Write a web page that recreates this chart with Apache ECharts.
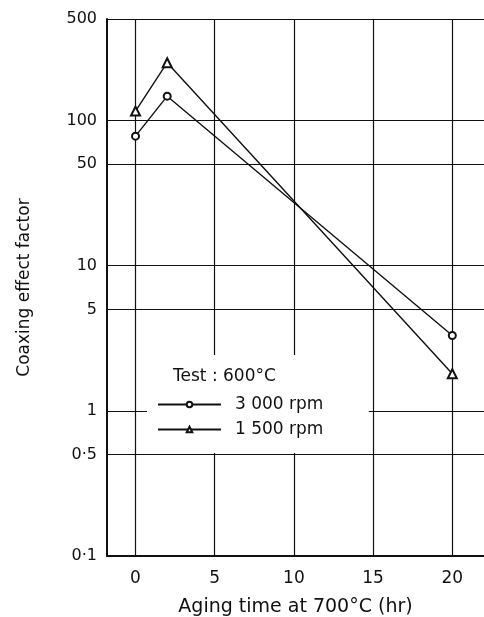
<!DOCTYPE html>
<html>
<head>
<meta charset="utf-8">
<script src="https://cdn.jsdelivr.net/npm/echarts@6/dist/echarts.min.js"></script>
<style>
  html, body { margin: 0; padding: 0; background: #fff; }
  #main { width: 484px; height: 617px; }
</style>
</head>
<body>
<div id="main"></div>
<script>
// aging time (hr)
var agingTime = [0, 2, 20];
// coaxing effect factor
var rpm3000 = [78, 147, 3.3];
var rpm1500 = [116, 250, 1.8];
var seriesNames = ['3 000 rpm', '1 500 rpm'];
// ticks
var xTicks = [0, 5, 10, 15, 20];
var yTicks = [0.1, 0.5, 1, 5, 10, 50, 100, 500];
var yTickLabels = ['0·1', '0·5', '1', '5', '10', '50', '100', '500'];

var font = 'DejaVu Sans';

function pairs(xs, ys) {
  return xs.map(function(x, i) { return [x, ys[i]]; });
}

// gridlines
var gridLines = [];
yTicks.forEach(function(v) { gridLines.push({ yAxis: v }); });
xTicks.forEach(function(v) { gridLines.push({ xAxis: v }); });

var chart = echarts.init(document.getElementById('main'));
chart.setOption({
  animation: false,
  backgroundColor: '#fff',
  textStyle: { fontFamily: font, color: '#111' },
  grid: { left: 107, top: 19, right: 0, bottom: 61, outerBoundsMode: 'none' },
  // the white legend box with its heading
  title: {
    text: 'Test : 600°C',
    left: 147,
    top: 355,
    z: 3,
    backgroundColor: '#fff',
    padding: [13, 93, 68, 26],
    textStyle: { fontFamily: font, fontSize: 17, fontWeight: 'normal', color: '#111' }
  },
  xAxis: {
    type: 'value',
    min: -1.8,
    max: 22,
    name: 'Aging time at 700°C (hr)',
    nameLocation: 'middle',
    nameGap: 42,
    nameTextStyle: { fontFamily: font, fontSize: 19, color: '#111' },
    axisLine: { show: true, onZero: false, lineStyle: { color: '#111', width: 2 } },
    axisTick: { show: false },
    splitLine: { show: false },
    axisLabel: {
      customValues: xTicks,
      margin: 14,
      fontFamily: font,
      fontSize: 17,
      color: '#111'
    }
  },
  yAxis: {
    type: 'log',
    logBase: 10,
    min: 0.1,
    max: 500,
    name: 'Coaxing effect factor',
    nameLocation: 'middle',
    nameGap: 74,
    nameTextStyle: { fontFamily: font, fontSize: 17, color: '#111' },
    axisLine: { show: true, onZero: false, lineStyle: { color: '#111', width: 2 } },
    axisTick: { show: false },
    splitLine: { show: false },
    axisLabel: {
      customValues: yTicks,
      margin: 10,
      fontFamily: font,
      fontSize: 16,
      color: '#111',
      formatter: function(v) {
        var i = yTicks.indexOf(+v);
        return i >= 0 ? yTickLabels[i] : '';
      }
    }
  },
  legend: {
    data: seriesNames,
    orient: 'vertical',
    left: 152,
    top: 391,
    z: 4,
    itemWidth: 63,
    itemHeight: 7,
    itemGap: 8,
    textStyle: { fontFamily: font, fontSize: 17, color: '#111', padding: [0, 0, 0, 9] }
  },
  series: [
    {
      name: seriesNames[0],
      type: 'line',
      data: pairs(agingTime, rpm3000),
      symbol: 'emptyCircle',
      symbolSize: 7,
      itemStyle: { color: '#111', borderWidth: 1.2 },
      lineStyle: { color: '#111', width: 1.4 },
      markLine: {
        silent: true,
        z: 1,
        symbol: 'none',
        label: { show: false },
        lineStyle: { color: '#111', width: 1.2, type: 'solid' },
        data: gridLines
      }
    },
    {
      name: seriesNames[1],
      type: 'line',
      data: pairs(agingTime, rpm1500),
      symbol: 'emptyTriangle',
      symbolSize: 9,
      itemStyle: { color: '#111', borderWidth: 1.2 },
      lineStyle: { color: '#111', width: 1.4 }
    }
  ]
});
</script>
</body>
</html>
